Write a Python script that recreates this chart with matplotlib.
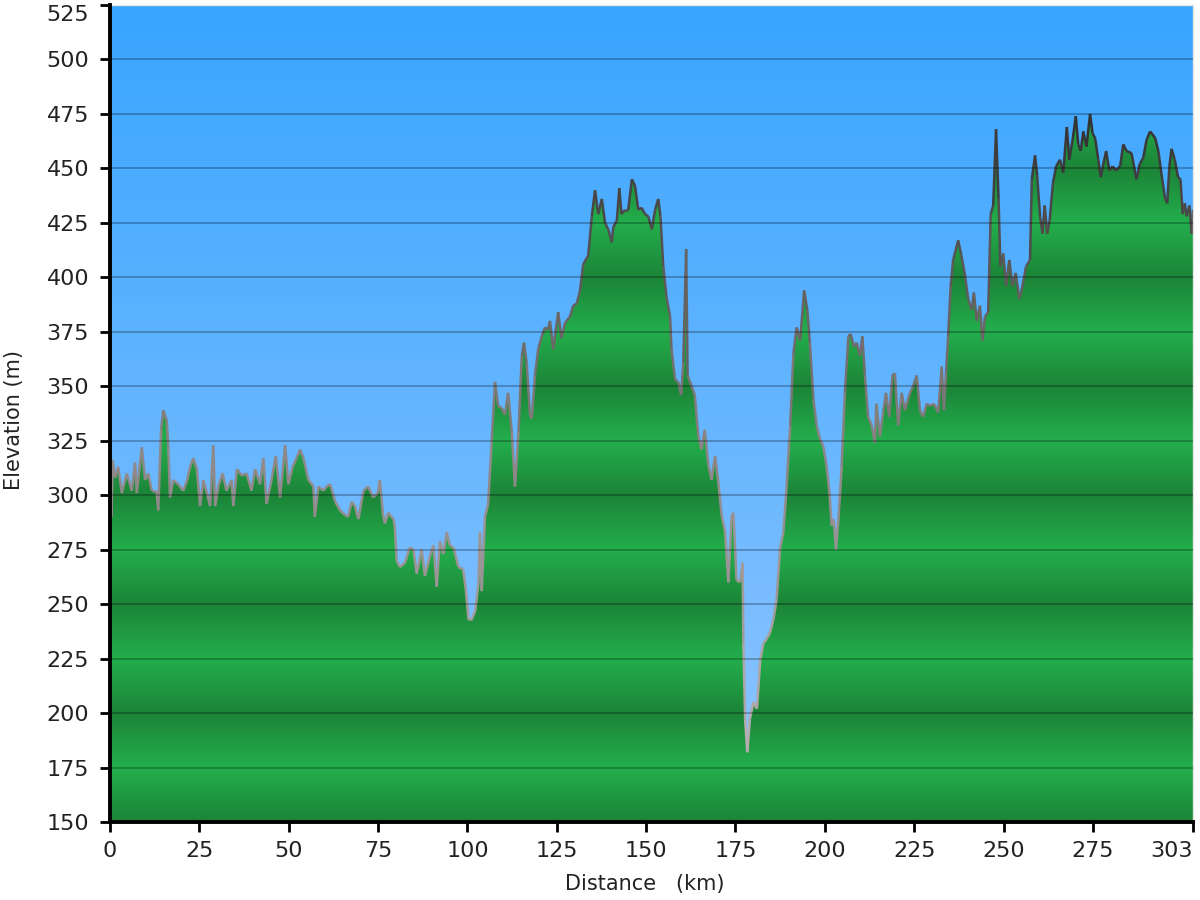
# Elevation profile chart
import matplotlib
import matplotlib.pyplot as plt
from matplotlib.collections import LineCollection
from matplotlib.colors import LinearSegmentedColormap, Normalize
import numpy as np

# Profile (km, m)
distance_km = [
    0, 0.4, 0.75, 1.4, 2.3, 3.3, 4.7, 6.1, 7.0, 7.5, 8.9, 9.8, 10.7, 11.7, 13.0, 13.5,
    14.3, 14.9, 15.9, 16.3, 16.8, 17.7, 19.1, 20.5, 21.6, 22.4, 23.3, 24.3, 25.2, 26.1,
    27.1, 28.0, 28.9, 29.4, 30.3, 31.5, 32.6, 34.0, 34.5, 35.5, 36.9, 38.2, 39.6, 40.6,
    42.0, 42.9, 43.8, 45.2, 46.4, 47.6, 49.0, 49.9, 51.1, 52.2, 53.2, 54.1, 55.5, 56.9,
    57.3, 58.3, 59.7, 60.6, 61.6, 63.0, 64.4, 65.7, 66.6, 67.6, 68.5, 69.5, 70.9, 72.2,
    73.6, 75.0, 75.5, 76.4, 76.9, 77.9, 78.3, 79.3, 79.7, 80.2, 81.1, 82.5, 83.9, 84.9,
    85.8, 87.2, 88.1, 89.5, 90.5, 91.4, 92.3, 93.3, 94.2, 95.1, 96.1, 97.5, 98.8, 99.6,
    100.3, 101.2, 102.2, 103.1, 103.5, 104.0, 104.9, 105.8, 106.8, 107.7, 108.6, 109.6,
    110.5, 111.4, 112.4, 113.3, 114.3, 115.2, 115.8, 116.6, 117.5, 118.0, 118.9, 119.8,
    120.8, 121.7, 122.6, 123.1, 124.0, 125.4, 126.3, 127.3, 128.7, 129.6, 130.6, 131.5,
    132.4, 133.8, 134.8, 135.7, 136.6, 137.6, 138.5, 139.4, 140.4, 140.8, 141.8, 142.5,
    143.1, 144.1, 145.0, 146.0, 146.9, 147.8, 148.7, 149.7, 150.6, 151.6, 152.5, 153.4,
    154.0, 154.8, 155.7, 156.7, 157.1, 158.1, 159.0, 159.8, 160.4, 161.2, 161.6, 162.7,
    163.6, 164.6, 165.5, 166.4, 167.4, 168.3, 169.3, 170.2, 171.1, 172.1, 173.0, 173.9,
    174.4, 175.3, 176.3, 177.0, 177.2, 177.7, 178.3, 179.0, 180.0, 181.0, 181.9, 182.8,
    183.7, 184.7, 185.6, 186.5, 187.5, 188.4, 189.3, 190.3, 191.2, 192.1, 193.1, 194.2,
    195.1, 195.8, 196.8, 197.7, 198.6, 199.6, 200.5, 201.3, 201.9, 202.5, 203.1, 203.8,
    204.7, 205.6, 206.6, 207.2, 208.2, 208.9, 209.8, 210.5, 211.2, 212.1, 213.1, 214.0,
    214.4, 215.4, 216.3, 217.1, 218.0, 218.9, 219.6, 220.5, 221.5, 222.4, 223.8, 224.7,
    225.7, 226.6, 227.5, 228.5, 229.4, 230.5, 231.7, 232.7, 233.3, 233.9, 234.5, 235.2,
    235.9, 237.3, 238.2, 239.2, 240.1, 241.1, 241.7, 242.5, 243.4, 244.1, 244.8, 245.7,
    246.4, 247.1, 247.9, 248.6, 249.1, 249.9, 250.7, 251.6, 252.5, 253.4, 254.4, 255.3,
    256.3, 257.4, 257.9, 258.8, 259.4, 260.2, 260.9, 261.5, 262.2, 262.9, 263.8, 264.7,
    265.8, 266.7, 267.7, 268.4, 269.4, 270.2, 270.9, 271.6, 272.3, 273.2, 274.2, 274.9,
    275.6, 276.5, 277.2, 277.9, 278.7, 279.6, 280.5, 281.4, 282.6, 283.5, 284.4, 285.8,
    287.2, 288.1, 289.1, 290.0, 291.0, 292.4, 293.3, 294.3, 295.2, 295.8, 296.4, 297.0,
    297.9, 298.8, 299.5, 300.1, 300.7, 301.2, 302.0, 302.6, 303.0,
]
elevation_m = [
    360, 290, 316, 308, 313, 301, 310, 302, 315, 301, 322, 307, 310, 302, 302, 293,
    330, 339, 334, 322, 299, 307, 305, 302, 307, 313, 317, 312, 295, 307,
    301, 295, 323, 295, 304, 310, 302, 307, 295, 312, 309, 310, 302, 312,
    305, 317, 296, 307, 318, 299, 323, 305, 313, 317, 321, 317, 307, 304,
    290, 304, 302, 304, 305, 297, 293, 291, 290, 297, 295, 289, 302, 304,
    299, 301, 307, 291, 287, 292, 291, 289, 285, 270, 267, 269, 276, 275,
    264, 275, 263, 272, 277, 258, 279, 273, 283, 277, 276, 267, 266, 256,
    243, 243, 247, 260, 283, 256, 290, 296, 325, 352, 341, 340,
    337, 347, 329, 304, 329, 364, 370, 360, 337, 335, 355, 367,
    373, 377, 376, 380, 367, 384, 372, 379, 382, 387, 388, 394,
    406, 410, 428, 440, 429, 436, 425, 422, 416, 423, 426, 441,
    429, 431, 431, 445, 442, 431, 432, 429, 428, 422, 431, 436,
    428, 405, 391, 382, 367, 353, 352, 346, 361, 413, 355, 350,
    346, 327, 321, 330, 314, 307, 318, 306, 291, 283, 260, 290,
    292, 261, 260, 269, 232, 197, 182, 197, 205, 202, 224, 232,
    234, 237, 243, 252, 276, 283, 304, 332, 365, 377, 371, 394,
    385, 370, 344, 332, 326, 322, 313, 301, 286, 289, 275, 289,
    313, 347, 373, 374, 368, 370, 364, 373, 355, 336, 332, 324,
    342, 327, 338, 347, 336, 355, 356, 332, 347, 339, 347, 350,
    355, 339, 336, 342, 341, 342, 338, 359, 339, 356, 373, 396,
    408, 417, 410, 401, 390, 385, 393, 380, 387, 371, 382, 384,
    429, 433, 468, 436, 405, 411, 396, 408, 396, 402, 390, 396,
    405, 408, 445, 456, 447, 428, 420, 433, 420, 426, 443, 451,
    454, 448, 469, 454, 464, 474, 461, 458, 467, 460, 475, 466,
    464, 454, 446, 452, 458, 449, 451, 449, 451, 461, 458, 457,
    445, 452, 455, 463, 467, 464, 458, 446, 436, 434, 451, 459,
    454, 446, 445, 429, 434, 428, 433, 420, 431,
]

x_ticks = [0, 25, 50, 75, 100, 125, 150, 175, 200, 225, 250, 275, 303]
y_ticks = list(range(150, 526, 25))
x_max = 303
y_min, y_max = 150, 525

# Pre-plot settings
matplotlib.rc('font', family='DejaVu Sans', size=16)
fig = plt.figure(figsize=(12, 9), dpi=100)
ax = fig.add_axes([110 / 1200, 1 - 822 / 900, 1083 / 1200, 817 / 900])

# Sky: vertical blue gradient
sky_top = np.array([0x38, 0xa5, 0xff]) / 255
sky_bottom = np.array([0x92, 0xc6, 0xff]) / 255
t = np.linspace(0, 1, 400)[:, None]
sky = sky_top * (1 - t) + sky_bottom * t
ax.imshow(sky[:, None, :], extent=[0, x_max, y_min, y_max], aspect='auto',
          interpolation='bilinear', zorder=0)

# Ground: green bands, dark at every 50 m, bright in between
levels = np.linspace(y_max, y_min, 1500)
shade = np.abs(((levels - 150) % 50) - 25) / 25
green_bright = np.array([0x23, 0xae, 0x4c]) / 255
green_dark = np.array([0x1c, 0x84, 0x38]) / 255
ground = green_bright * (1 - shade[:, None]) + green_dark * shade[:, None]
ground_img = ax.imshow(ground[:, None, :], extent=[0, x_max, y_min, y_max],
                       aspect='auto', interpolation='bilinear', zorder=1)
area = ax.fill_between(distance_km, elevation_m, y_min, facecolor='none',
                       edgecolor='none')
ground_img.set_clip_path(area.get_paths()[0], transform=ax.transData)

# Outline, grey at low ground and darker higher up
pts = np.column_stack([distance_km, elevation_m])
segs = np.stack([pts[:-1], pts[1:]], axis=1)
mid = (pts[:-1, 1] + pts[1:, 1]) / 2
line_cmap = LinearSegmentedColormap.from_list('outline', ['#b8b0b0', '#8a8484', '#333333'])
outline = LineCollection(segs, cmap=line_cmap, norm=Normalize(180, 470),
                         linewidths=1.8, zorder=2)
outline.set_array(mid)
ax.add_collection(outline)

# Horizontal grid lines
for yv in y_ticks[1:-1]:
    ax.axhline(yv, color='black', alpha=0.3, linewidth=1.2, zorder=3)

# Axes settings
ax.set(xlim=(0, x_max), ylim=(y_min, y_max), xticks=x_ticks, yticks=y_ticks)
ax.tick_params(direction='out', length=7, width=2, color='black',
               labelcolor='#222222', labelsize=16)
ax.tick_params(axis='x', pad=7)
ax.tick_params(axis='y', pad=8)
# keep the end labels inside the figure
ax.get_xticklabels()[-1].set_horizontalalignment('right')
ax.get_yticklabels()[-1].set_verticalalignment('top')
for side in ['left', 'bottom']:
    ax.spines[side].set_linewidth(2.8)
    ax.spines[side].set_color('black')
    ax.spines[side].set_zorder(5)
for side in ['top', 'right']:
    ax.spines[side].set_linewidth(1)
    ax.spines[side].set_color('#e4e4e4')

ax.set_xlabel('Distance   (km)', fontsize=15, color='#222222', va='center')
ax.set_ylabel('Elevation (m)', fontsize=15, color='#222222', va='center')
ax.xaxis.set_label_coords((645 - 110) / 1083, (822 - 884) / 817)
ax.yaxis.set_label_coords((14 - 110) / 1083, (822 - 420) / 817)

plt.savefig('out.png', dpi=100)
